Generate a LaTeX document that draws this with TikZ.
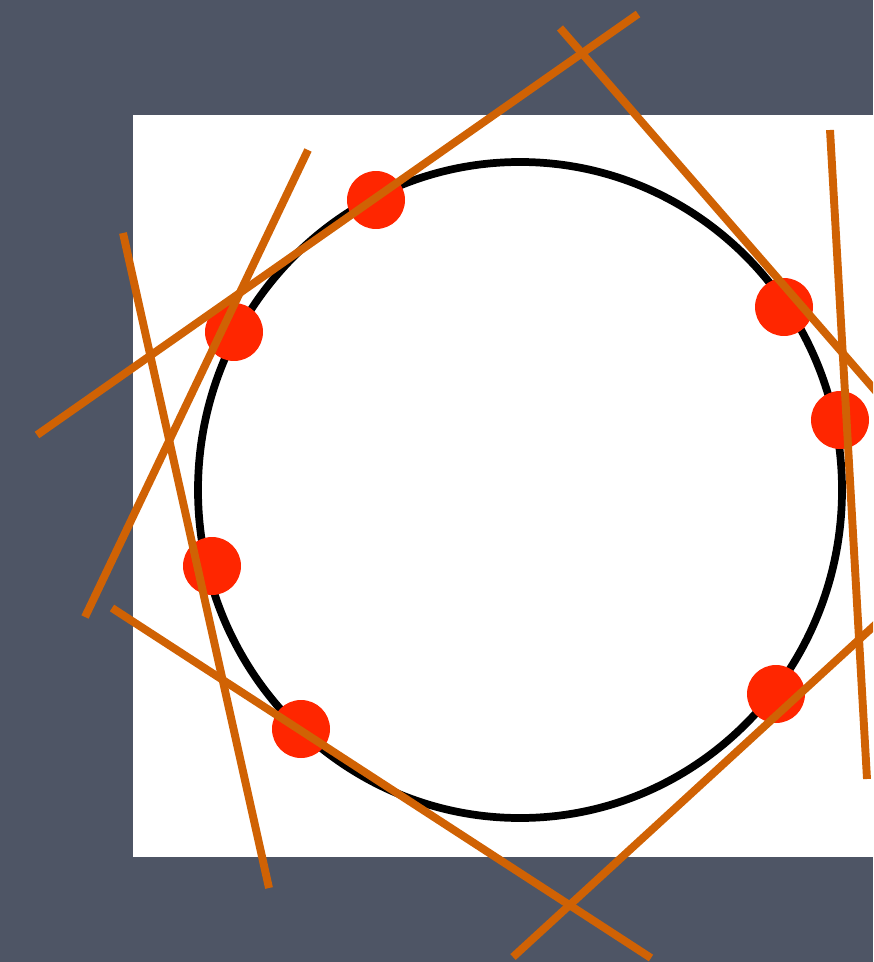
\documentclass[tikz,border=0pt]{standalone}
\usepackage{tikz}
\usetikzlibrary{positioning,calc}
\definecolor{slate}{RGB}{78,85,101}
\definecolor{dotred}{RGB}{255,38,0}
\definecolor{tanorange}{RGB}{208,98,4}
\tikzstyle{ptnode}=[circle, fill=dotred, inner sep=0pt, minimum size=1.16cm]
\tikzstyle{tanline}=[draw=tanorange, line width=4.5pt]
\tikzstyle{ring}=[draw=black, line width=4.4pt]

\begin{document}
\begin{tikzpicture}[x=0.02cm, y=-0.02cm]
    \useasboundingbox (0,0) rectangle (873,962);
    \clip (0,0) rectangle (873,962);
    \fill[slate] (0,0) rectangle (873,962);
    \fill[white] (133,115) rectangle (873,857);

    % the circle
    \coordinate (c) at (520,490);
    \draw[ring] (c) ellipse [x radius=322, y radius=328];

    % sample points
    \node[ptnode] (p1) at (376,200) {};
    \node[ptnode] (p2) at (234,332) {};
    \node[ptnode] (p3) at (212,566) {};
    \node[ptnode] (p4) at (301,729) {};
    \node[ptnode] (p5) at (776,694) {};
    \node[ptnode] (p6) at (784,307) {};
    \node[ptnode] (p7) at (840,420) {};

    % line ends
    \coordinate (a1) at (37,435);   \coordinate (b1) at (638,14);
    \coordinate (a2) at (308,150);  \coordinate (b2) at (85,617);
    \coordinate (a3) at (123,233);  \coordinate (b3) at (269,888);
    \coordinate (a4) at (112,608);  \coordinate (b4) at (651,958);
    \coordinate (a5) at (513,957);  \coordinate (b5) at (900,602);
    \coordinate (a6) at (830,130);  \coordinate (b6) at (867,779);
    \coordinate (a7) at (560,28);   \coordinate (b7) at (900,419);

    % tangent lines
    \foreach \i in {1,...,7}
      \draw[tanline] (a\i) -- (b\i);
\end{tikzpicture}
\end{document}
